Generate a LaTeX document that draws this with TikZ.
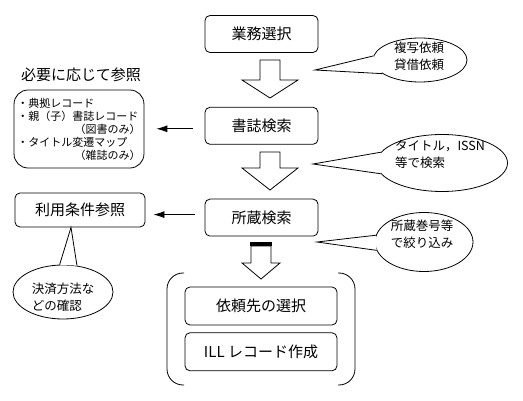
\documentclass[tikz,border=0pt]{standalone}
\usepackage{fontspec}
\setmainfont{Noto Sans CJK JP}
\usepackage{tikz}
\usetikzlibrary{shapes.geometric,arrows.meta,positioning,calc}

\begin{document}
\begin{tikzpicture}[
    x=1pt, y=-1pt,
    node distance=54pt,
    line width=0.8pt,
    task/.style={rectangle, draw, rounded corners=5pt, minimum width=113pt, minimum height=37pt, text centered, font=\fontsize{15}{17}\selectfont},
    refbox/.style={rectangle, draw, rounded corners=5pt, text centered, font=\fontsize{15}{17}\selectfont},
    bubble/.style={ellipse, draw, fill=white, inner sep=0pt},
    note/.style={align=left, inner sep=0pt, font=\fontsize{12.5}{17}\selectfont},
    bigarrow/.style={draw, fill=white, line join=miter},
    arrow/.style={-{Latex[length=11pt,width=7pt]}}
]
    \useasboundingbox (0,0) rectangle (523,401);

    % Main flow
    \node[task] (job) at (261.5,34) {業務選択};
    \node[task, below=of job] (bib) {書誌検索};
    \node[task, below=of bib] (loc) {所蔵検索};

    % Block arrows
    \draw[bigarrow] (260,60) -- (280,60) -- (280,80) -- (298,80) -- (270,98) -- (242,80) -- (260,80) -- cycle;
    \draw[bigarrow] (260,152) -- (280,152) -- (280,168) -- (298,168) -- (270,190) -- (242,168) -- (260,168) -- cycle;
    \draw[bigarrow] (251,246) -- (271,246) -- (271,263) -- (280,263) -- (261,279) -- (242,263) -- (251,263) -- cycle;
    \fill (250,242) rectangle (272,246);

    % ILL request
    \node[task, minimum width=152pt, minimum height=38pt] (sel) at (261,306) {依頼先の選択};
    \node[task, minimum width=152pt, minimum height=38pt, below=7pt of sel] (ill) {ILL レコード作成};
    \draw[rounded corners=16pt] (184,273) -- (167,273) -- (167,385) -- (184,385);
    \draw[rounded corners=16pt] (338,273) -- (355,273) -- (355,385) -- (338,385);

    % Reference boxes
    \node[font=\fontsize{15}{17}\selectfont] (needtitle) at (81,75) {必要に応じて参照};
    \node[refbox, rounded corners=14pt, minimum width=128pt, minimum height=78pt, align=left, font=\fontsize{11}{13}\selectfont] (need) at (79,129)
        {・典拠レコード\\・親（子）書誌レコード\\\hspace*{5.2em}（図書のみ）\\・タイトル変遷マップ\\\hspace*{5.2em}（雑誌のみ）};
    \node[refbox, minimum width=130pt, minimum height=34pt] (use) at (80,210) {利用条件参照};

    \draw[arrow] ([xshift=-12pt,yshift=-3pt]bib.west) -- ([xshift=12pt,yshift=-3pt]need.east |- bib.west);
    \draw[arrow] ([xshift=-10pt,yshift=3pt]loc.west) -- ([xshift=8pt,yshift=3pt]use.east |- loc.west);

    % Callouts
    \node[bubble, minimum width=94pt, minimum height=44pt] (dup) at (420,60) {};
    \coordinate (duptip) at (315,70);
    \fill[white] (duptip) -- (dup.175) -- (dup.200) -- cycle;
    \draw (dup.175) -- (duptip) -- (dup.200);
    \node[note] (duptext) at (419,56) {複写依頼\\貸借依頼};

    \node[bubble, minimum width=131pt, minimum height=57pt] (srch) at (442,163) {};
    \coordinate (srchtip) at (313,164);
    \fill[white] (srchtip) -- (srch.170) -- (srch.190) -- cycle;
    \draw (srch.170) -- (srchtip) -- (srch.190);
    \node[note] (srchtext) at (440,154) {タイトル，ISSN\\等で検索};

    \node[bubble, minimum width=98pt, minimum height=59pt] (vol) at (424,242) {};
    \coordinate (voltip) at (317,242);
    \fill[white] (voltip) -- (vol.172) -- (vol.190) -- cycle;
    \draw (vol.172) -- (voltip) -- (vol.190);
    \node[note] (voltext) at (422,234) {所蔵巻号等\\で絞り込み};

    \node[bubble, minimum width=100pt, minimum height=54pt] (pay) at (63,292) {};
    \coordinate (paytip) at ([xshift=-9pt]use.south);
    \fill[white] (paytip) -- (pay.97) -- (pay.62) -- cycle;
    \draw (pay.97) -- (paytip) -- (pay.62);
    \node[note] (paytext) at (63,297) {決済方法な\\どの確認};
\end{tikzpicture}
\end{document}
